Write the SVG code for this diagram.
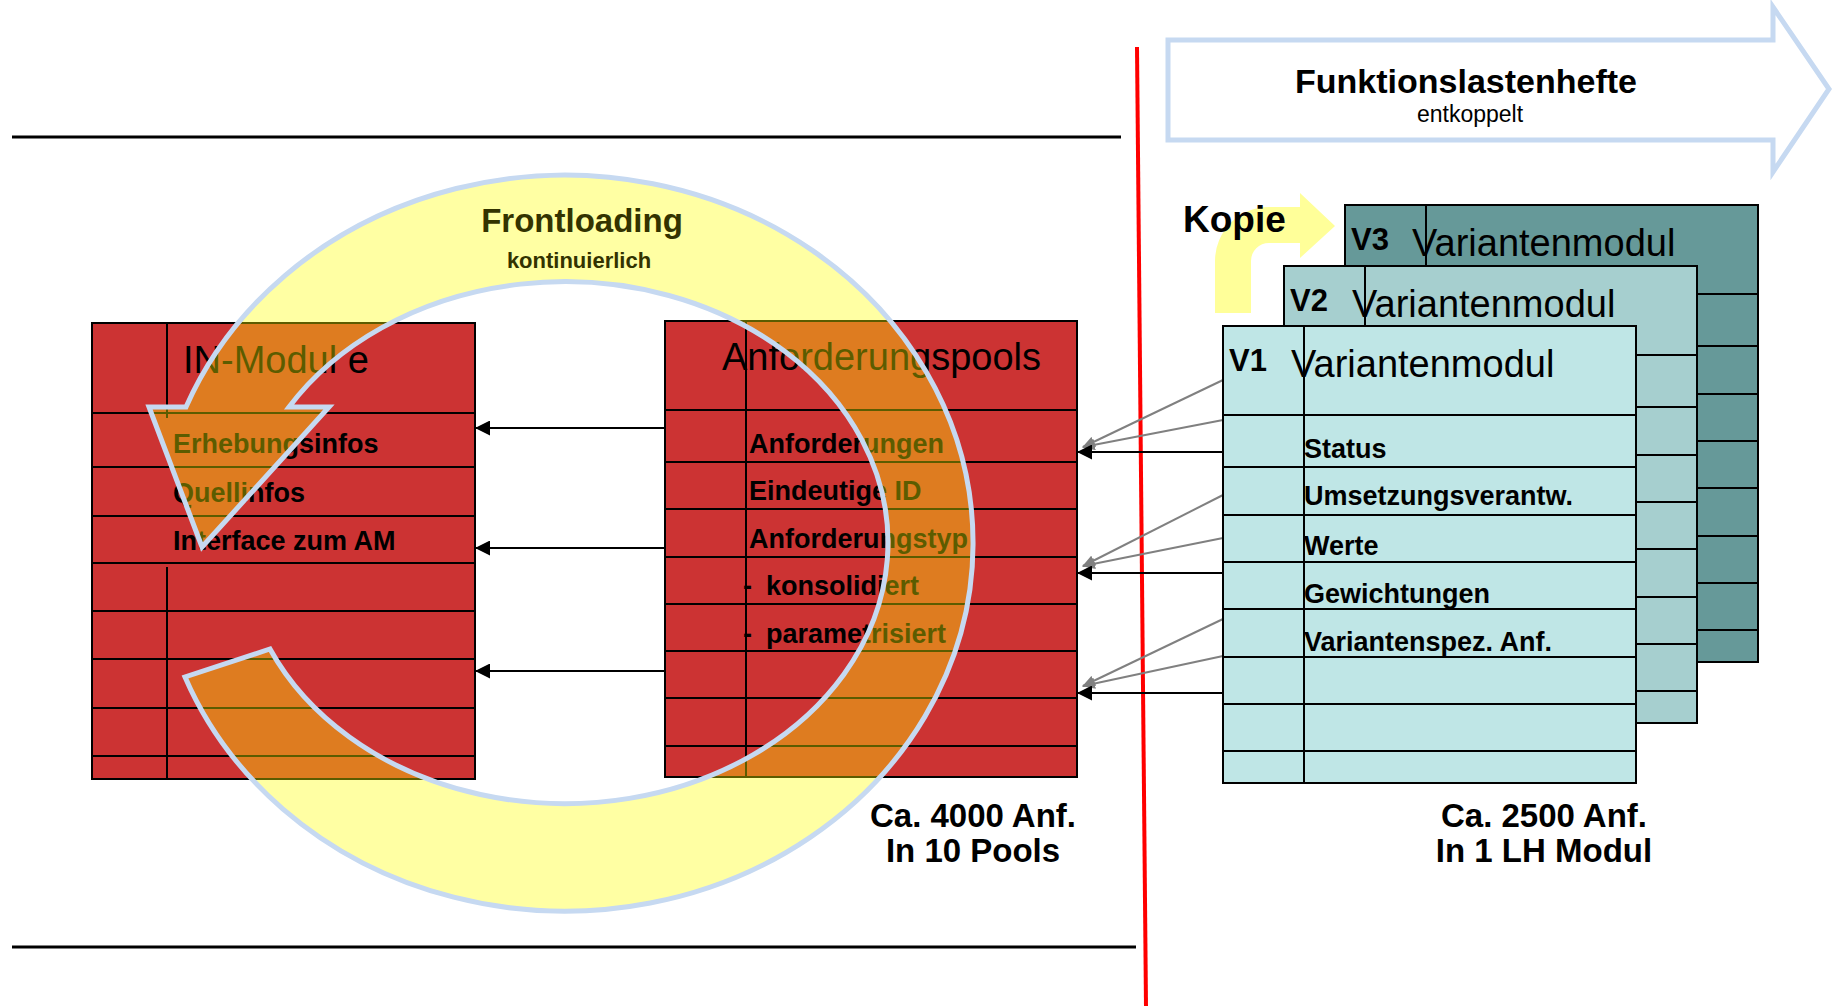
<svg xmlns="http://www.w3.org/2000/svg" width="1837" height="1008" viewBox="0 0 1837 1008">
<defs>
<style>
.red{fill:#CC3333;stroke:#000;stroke-width:2}
.v1{fill:#BFE6E6;stroke:#000;stroke-width:2}
.v2{fill:#A6CFCF;stroke:#000;stroke-width:2}
.v3{fill:#669999;stroke:#000;stroke-width:2}
.g{stroke:#000;stroke-width:2;fill:none}
.sep{stroke:#000;stroke-width:3}
.th{font-family:"Liberation Sans",Arial,sans-serif;font-size:38px;fill:#000}
.tv{font-family:"Liberation Sans",Arial,sans-serif;font-size:31px;font-weight:bold;fill:#000}
.tr{font-family:"Liberation Sans",Arial,sans-serif;font-size:27px;font-weight:bold;fill:#000}
.tc{font-family:"Liberation Sans",Arial,sans-serif;font-size:33px;font-weight:bold;fill:#000;text-anchor:middle}
.cb{stroke:#000;stroke-width:2;fill:none;marker-end:url(#ah)}
.cg{stroke:#808080;stroke-width:2;fill:none;marker-end:url(#ahg)}
</style>
<marker id="ah" markerUnits="userSpaceOnUse" markerWidth="15" markerHeight="15" refX="14" refY="7.5" orient="auto"><path d="M0,0 L15,7.5 L0,15 z" fill="#000"/></marker>
<marker id="ahg" markerUnits="userSpaceOnUse" markerWidth="13" markerHeight="11" refX="12" refY="5.5" orient="auto"><path d="M0,0 L13,5.5 L0,11 z" fill="#808080"/></marker>
</defs>

<g id="separators">
<line class="sep" x1="12" y1="137" x2="1121" y2="137"/>
<line class="sep" x1="12" y1="947" x2="1136" y2="947"/>
<line x1="1137" y1="47" x2="1146" y2="1006" stroke="#FF0000" stroke-width="4"/>
</g>

<g id="in-module">
<rect class="red" x="92" y="323" width="383" height="456"/>
<path class="g" d="M92 413H475M92 467H475M92 516H475M92 563H475M92 611H475M92 659H475M92 708H475M92 756H475M167 323V418M167 567V779"/>
<text class="th" x="183" y="373">IN-Modul e</text>
<text class="tr" x="173" y="453">Erhebungsinfos</text>
<text class="tr" x="173" y="502">Quellinfos</text>
<text class="tr" x="173" y="550">Interface zum AM</text>
</g>

<g id="anforderungspools">
<rect class="red" x="665" y="321" width="412" height="456"/>
<path class="g" d="M665 410H1077M665 462H1077M665 509H1077M665 557H1077M665 604H1077M665 651H1077M665 698H1077M665 746H1077M746 321V777"/>
<text class="th" x="722" y="370">Anforderungspools</text>
<text class="tr" x="749" y="453">Anforderungen</text>
<text class="tr" x="749" y="500">Eindeutige ID</text>
<text class="tr" x="749" y="548">Anforderungstyp</text>
<text class="tr" x="743" y="595">-<tspan x="766">konsolidiert</tspan></text>
<text class="tr" x="743" y="643">-<tspan x="766">parametrisiert</tspan></text>
<text class="tc" x="973" y="827">Ca. 4000 Anf.</text>
<text class="tc" x="973" y="862">In 10 Pools</text>
</g>

<g id="connectors">
<line class="cb" x1="665" y1="428" x2="476" y2="428"/>
<line class="cb" x1="665" y1="548" x2="476" y2="548"/>
<line class="cb" x1="665" y1="671" x2="476" y2="671"/>
<line class="cg" x1="1223" y1="380" x2="1083" y2="447"/>
<line class="cg" x1="1223" y1="420" x2="1083" y2="447"/>
<line class="cb" x1="1223" y1="452" x2="1078" y2="452"/>
<line class="cg" x1="1223" y1="495" x2="1083" y2="566"/>
<line class="cg" x1="1223" y1="538" x2="1083" y2="566"/>
<line class="cb" x1="1223" y1="573" x2="1078" y2="573"/>
<line class="cg" x1="1223" y1="619" x2="1083" y2="686"/>
<line class="cg" x1="1223" y1="656" x2="1083" y2="686"/>
<line class="cb" x1="1223" y1="693" x2="1078" y2="693"/>
</g>

<g id="frontloading">
<path d="M185 677 A408 368 0 1 0 186 407 L149 407 L202 547 L329 407 L289 407 A323 261 0 1 1 270 649 Z" fill="#FFFF00" fill-opacity="0.36" stroke="#C6D9F1" stroke-width="5"/>
<text x="582" y="232" font-family="'Liberation Sans',Arial,sans-serif" font-size="33" font-weight="bold" fill="#333300" text-anchor="middle">Frontloading</text>
<text x="579" y="268" font-family="'Liberation Sans',Arial,sans-serif" font-size="22" font-weight="bold" fill="#333300" text-anchor="middle">kontinuierlich</text>
</g>

<g id="funktionslastenhefte">
<path d="M1168 40 L1773 40 L1773 7 L1829 89 L1773 172 L1773 140 L1168 140 Z" fill="#FFFFFF" stroke="#C6D9F1" stroke-width="5"/>
<text x="1466" y="93" font-family="'Liberation Sans',Arial,sans-serif" font-size="34" font-weight="bold" fill="#000" text-anchor="middle">Funktionslastenhefte</text>
<text x="1470" y="122" font-family="'Liberation Sans',Arial,sans-serif" font-size="23" fill="#000" text-anchor="middle">entkoppelt</text>
</g>

<g id="kopie">
<path d="M1215 313 L1215 261 A54 54 0 0 1 1269 207 L1300 207 L1300 193 L1335 226 L1300 258 L1300 243 L1269 243 A18 18 0 0 0 1251 261 L1251 313 Z" fill="#FFFF99"/>
<text x="1183" y="232" font-family="'Liberation Sans',Arial,sans-serif" font-size="37" font-weight="bold" fill="#000">Kopie</text>
</g>

<g id="v3">
<rect class="v3" x="1345" y="205" width="413" height="457"/>
<path class="g" d="M1345 294H1758M1345 346H1758M1345 394H1758M1345 441H1758M1345 488H1758M1345 536H1758M1345 583H1758M1345 630H1758M1426 205V662"/>
<text class="tv" x="1351" y="250">V3</text>
<text class="th" x="1412" y="256">Variantenmodul</text>
</g>

<g id="v2">
<rect class="v2" x="1284" y="266" width="413" height="457"/>
<path class="g" d="M1284 355H1697M1284 407H1697M1284 455H1697M1284 502H1697M1284 549H1697M1284 597H1697M1284 644H1697M1284 691H1697M1365 266V723"/>
<text class="tv" x="1290" y="311">V2</text>
<text class="th" x="1352" y="317">Variantenmodul</text>
</g>

<g id="v1">
<rect class="v1" x="1223" y="326" width="413" height="457"/>
<path class="g" d="M1223 415H1636M1223 467H1636M1223 515H1636M1223 562H1636M1223 609H1636M1223 657H1636M1223 704H1636M1223 751H1636M1304 326V783"/>
<text class="tv" x="1229" y="371">V1</text>
<text class="th" x="1291" y="377">Variantenmodul</text>
<text class="tr" x="1304" y="458">Status</text>
<text class="tr" x="1304" y="505">Umsetzungsverantw.</text>
<text class="tr" x="1304" y="555">Werte</text>
<text class="tr" x="1304" y="603">Gewichtungen</text>
<text class="tr" x="1304" y="651">Variantenspez. Anf.</text>
<text class="tc" x="1544" y="827">Ca. 2500 Anf.</text>
<text class="tc" x="1544" y="862">In 1 LH Modul</text>
</g>
</svg>
